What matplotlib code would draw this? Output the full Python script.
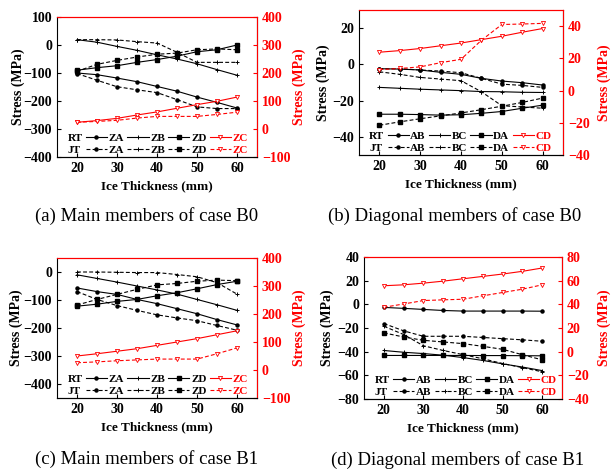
import matplotlib
matplotlib.use("Agg")
import matplotlib.pyplot as plt
from matplotlib.lines import Line2D

plt.rcParams["font.family"] = ["Liberation Serif", "DejaVu Serif"]
plt.rcParams["font.weight"] = "bold"
plt.rcParams["axes.labelweight"] = "bold"

thickness = [20, 25, 30, 35, 40, 45, 50, 55, 60]

# (a) main members, case B0 (left axis: ZA, ZB, ZD; right axis: ZC)
a_rt_za = [-100, -106, -118, -131, -148, -165, -186, -205, -225]
a_jt_za = [-102, -126, -149, -160, -170, -195, -221, -227, -227]
a_rt_zb = [19, 10, -5, -19, -35, -50, -67, -88, -108]
a_jt_zb = [19, 19, 18, 12, 7, -26, -62, -62, -62]
a_rt_zd = [-90, -81, -74, -62, -52, -40, -24, -17, 0]
a_jt_zd = [-94, -69, -55, -43, -33, -29, -17, -14, -17]
a_rt_zc = [24, 30, 38, 50, 61, 74, 87, 99, 114]
a_jt_zc = [24, 27, 31, 39, 45, 45, 45, 52, 60]

# (b) diagonal members, case B0 (left axis: AB, BC, DA; right axis: CD)
b_rt_ab = [-2.4, -2.6, -3.1, -4.4, -5.5, -7.7, -9.2, -10.1, -11.4]
b_jt_ab = [-2.4, -2.4, -3.1, -3.7, -4.6, -7.7, -10.9, -11.6, -12.7]
b_rt_bc = [-12.7, -13.2, -13.7, -14.1, -14.5, -15.0, -15.1, -15.4, -15.5]
b_jt_bc = [-4.1, -5.5, -7.2, -8.1, -9.0, -15.1, -22.8, -23.5, -24.2]
b_rt_da = [-27.5, -27.5, -27.7, -28.0, -27.8, -27.0, -26.0, -24.2, -22.5]
b_jt_da = [-33.6, -31.7, -30.0, -28.4, -26.8, -25.0, -23.1, -21.0, -18.6]
b_rt_cd = [23.8, 24.8, 26.1, 27.8, 29.5, 31.6, 33.7, 36.2, 38.5]
b_jt_cd = [13.0, 13.7, 14.7, 17.3, 19.4, 31.2, 41.0, 41.3, 41.7]

# (c) main members, case B1
c_rt_za = [-57, -70, -80, -98, -113, -131, -149, -170, -189]
c_jt_za = [-70, -98, -120, -137, -153, -164, -174, -191, -208]
c_rt_zb = [-10, -23, -36, -50, -64, -79, -98, -117, -137]
c_jt_zb = [0, 0, -1, -2, -2, -9, -17, -38, -79]
c_rt_zd = [-122, -115, -105, -98, -85, -74, -60, -45, -33]
c_jt_zd = [-118, -98, -80, -62, -46, -41, -33, -29, -31]
c_rt_zc = [50, 58, 67, 76, 88, 100, 112, 126, 140]
c_jt_zc = [26, 29, 33, 36, 39, 39, 39, 58, 79]

# (d) diagonal members, case B1
d_rt_ab = [-2.6, -3.4, -4.3, -5.2, -5.7, -5.7, -5.7, -5.7, -5.8]
d_jt_ab = [-16.2, -22.4, -27.0, -27.0, -27.0, -28.0, -29.0, -30.0, -31.2]
d_rt_bc = [-39.0, -40.5, -41.6, -43.0, -45.0, -47.4, -50.3, -53.0, -56.0]
d_jt_bc = [-18.5, -25.5, -35.0, -39.0, -42.5, -46.0, -50.0, -53.5, -57.0]
d_rt_da = [-43.2, -43.2, -43.2, -43.2, -43.2, -43.3, -43.3, -43.4, -43.5]
d_jt_da = [-24.1, -27.6, -30.4, -31.8, -33.2, -35.5, -38.0, -42.6, -46.9]
d_rt_cd = [55.7, 56.5, 57.9, 59.6, 61.6, 63.6, 65.6, 67.9, 70.7]
d_jt_cd = [37.5, 40.3, 43.2, 43.8, 44.3, 47.2, 50.0, 52.8, 56.5]

dash = (0, (3.5, 2))
markers = [dict(marker="o", ms=2.2), dict(marker="+", ms=3.0, mew=0.7), dict(marker="s", ms=2.3)]


def draw_panel(rect, left_series, right_series, names, ylim, yticks, ylim2, yticks2,
               ylab_x, caption, cap_xy):
    ax = fig.add_axes(rect)
    ax2 = ax.twinx()

    handles_rt, handles_jt = [], []
    for (rt, jt), mk in zip(left_series, markers):
        h1, = ax.plot(thickness, rt, color="black", lw=0.8, **mk)
        h2, = ax.plot(thickness, jt, color="black", lw=0.8, linestyle=dash, **mk)
        handles_rt.append(h1)
        handles_jt.append(h2)

    rt, jt = right_series
    h1, = ax2.plot(thickness, rt, color="red", lw=0.8, marker="v", ms=3.0, mfc="white", mew=0.6)
    h2, = ax2.plot(thickness, jt, color="red", lw=0.8, linestyle=dash, marker="v", ms=3.0,
                   mfc="white", mew=0.6)
    handles_rt.append(h1)
    handles_jt.append(h2)

    ax.set_xlim(15, 65)
    ax.set_xticks([20, 30, 40, 50, 60])
    ax.set_ylim(*ylim)
    ax.set_yticks(yticks)
    ax2.set_ylim(*ylim2)
    ax2.set_yticks(yticks2)

    ax.tick_params(direction="in", labelsize=10, length=3, width=0.8)
    ax2.tick_params(direction="in", labelsize=10, length=3, width=0.8, colors="red")
    for lab in ax.get_xticklabels() + ax.get_yticklabels() + ax2.get_yticklabels():
        lab.set_fontweight("bold")

    ax.spines["top"].set_color("red")
    ax2.spines["top"].set_color("red")
    ax2.spines["right"].set_color("red")
    ax2.spines["left"].set_visible(False)

    ax.set_xlabel("Ice Thickness (mm)", fontsize=9.5, labelpad=4)
    ax.set_ylabel("Stress (MPa)", fontsize=10)
    ax2.set_ylabel("Stress (MPa)", fontsize=10, color="red")
    ax.yaxis.set_label_coords(ylab_x[0], 0.5)
    ax2.yaxis.set_label_coords(ylab_x[1], 0.5)

    # Origin-style legend: "RT" / "JT" row titles, then handle + member name
    blank = Line2D([], [], color="none")
    handles = [blank, blank]
    labels = ["RT", "JT"]
    for hr, hj, n in zip(handles_rt, handles_jt, names):
        handles += [hr, hj]
        labels += [n, n]
    leg = ax2.legend(handles, labels, ncol=5, loc="lower left", bbox_to_anchor=(-0.095, -0.03),
                     frameon=False, fontsize=8, handlelength=1.9, handletextpad=0.15,
                     columnspacing=0.3, labelspacing=0.15, borderaxespad=0.2)
    for t in leg.get_texts():
        t.set_fontweight("bold")
        if t.get_text() == names[-1]:
            t.set_color("red")

    fig.text(cap_xy[0], cap_xy[1], caption, ha="center", va="center", fontsize=13.5,
             fontweight="normal")


fig = plt.figure(figsize=(6.15, 4.70), dpi=100)

draw_panel([57 / 615, 1 - 157 / 470, 200 / 615, 140 / 470],
           [(a_rt_za, a_jt_za), (a_rt_zb, a_jt_zb), (a_rt_zd, a_jt_zd)], (a_rt_zc, a_jt_zc),
           ["ZA", "ZB", "ZD", "ZC"], (-400, 100), range(-400, 101, 100),
           (-100, 400), range(-100, 401, 100), (-0.16, 1.18),
           "(a) Main members of case B0", (147 / 615, 1 - 216 / 470))

draw_panel([359 / 615, 1 - 155 / 470, 204 / 615, 145 / 470],
           [(b_rt_ab, b_jt_ab), (b_rt_bc, b_jt_bc), (b_rt_da, b_jt_da)], (b_rt_cd, b_jt_cd),
           ["AB", "BC", "DA", "CD"], (-50, 30), range(-40, 21, 20),
           (-40, 50), range(-40, 41, 20), (-0.14, 1.17),
           "(b) Diagonal members of case B0", (455 / 615, 1 - 216 / 470))

draw_panel([57 / 615, 1 - 398 / 470, 200 / 615, 140 / 470],
           [(c_rt_za, c_jt_za), (c_rt_zb, c_jt_zb), (c_rt_zd, c_jt_zd)], (c_rt_zc, c_jt_zc),
           ["ZA", "ZB", "ZD", "ZC"], (-450, 50), range(-400, 1, 100),
           (-100, 400), range(-100, 401, 100), (-0.17, 1.18),
           "(c) Main members of case B1", (147 / 615, 1 - 459 / 470))

draw_panel([364 / 615, 1 - 399 / 470, 198 / 615, 142 / 470],
           [(d_rt_ab, d_jt_ab), (d_rt_bc, d_jt_bc), (d_rt_da, d_jt_da)], (d_rt_cd, d_jt_cd),
           ["AB", "BC", "DA", "CD"], (-80, 40), range(-80, 41, 20),
           (-40, 80), range(-40, 81, 20), (-0.15, 1.18),
           "(d) Diagonal members of case B1", (458 / 615, 1 - 460 / 470))

fig.savefig("out.png", dpi=100)
plt.close(fig)
